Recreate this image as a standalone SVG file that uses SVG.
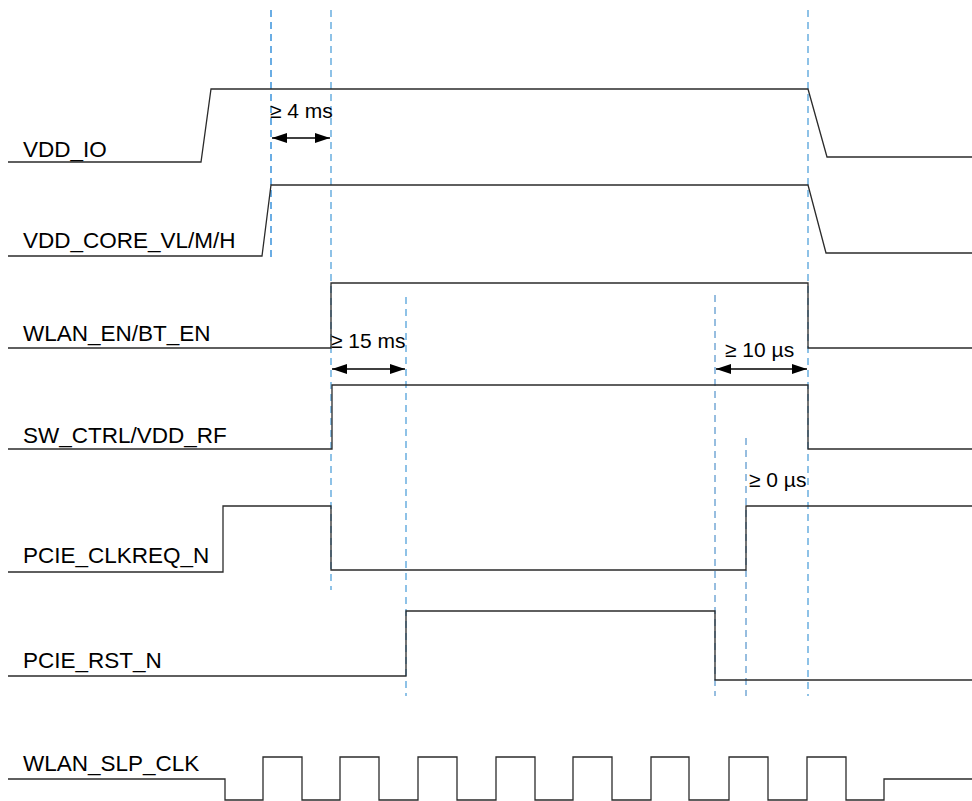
<svg xmlns="http://www.w3.org/2000/svg" width="972" height="801" viewBox="0 0 972 801">
<defs>
<style>
.sig{fill:none;stroke:#2b2b2b;stroke-width:1.3;}
.dl{fill:none;stroke:#6aaee0;stroke-width:1.5;stroke-dasharray:7,5;}
.dd{fill:none;stroke:#2f7cc0;stroke-width:1;stroke-dasharray:7,5;}
.lbl{font-family:"Liberation Sans",Arial,sans-serif;font-size:22.5px;fill:#000;}
.ann{font-family:"Liberation Sans",Arial,sans-serif;font-size:21px;fill:#000;}
.arr{fill:none;stroke:#000;stroke-width:1.5;marker-start:url(#ah);marker-end:url(#ah);}
</style>
<marker id="ah" viewBox="0 0 15 10" refX="15" refY="5" markerWidth="15" markerHeight="10" markerUnits="userSpaceOnUse" orient="auto-start-reverse">
<path d="M0,0 L15,5 L0,10 Z" fill="#000"/>
</marker>
</defs>
<rect width="972" height="801" fill="#fff"/>
<g id="guides">
<line class="dl" x1="271" y1="10" x2="271" y2="262" style="stroke:#3a92dc"/>
<line class="dl" x1="331" y1="10" x2="331" y2="590"/>
<line class="dl" x1="406" y1="297" x2="406" y2="696"/>
<line class="dd" x1="715" y1="295" x2="715" y2="696"/>
<line class="dd" x1="746" y1="438" x2="746" y2="696"/>
<line class="dl" x1="808" y1="10" x2="808" y2="696"/>
</g>
<g id="sig-vdd-io">
<path class="sig" d="M8,162 L201,162 L211,89 L808,89 L827,157 L972,157"/>
<text class="lbl" x="23" y="157">VDD_IO</text>
</g>
<g id="sig-vdd-core">
<path class="sig" d="M8,256 L262,256 L271,185 L808,185 L826,253 L972,253"/>
<text class="lbl" x="23" y="248">VDD_CORE_VL/M/H</text>
</g>
<g id="sig-wlan-en">
<path class="sig" d="M8,348 L331,348 L331,283 L808,283 L808,348 L972,348"/>
<text class="lbl" x="23" y="341">WLAN_EN/BT_EN</text>
</g>
<g id="sig-sw-ctrl">
<path class="sig" d="M8,449 L332,449 L332,385 L808,385 L808,449 L972,449"/>
<text class="lbl" x="23" y="443">SW_CTRL/VDD_RF</text>
</g>
<g id="sig-clkreq">
<path class="sig" d="M8,572 L223,572 L223,506 L331,506 L331,570 L746,570 L746,506 L972,506"/>
<text class="lbl" x="23" y="563">PCIE_CLKREQ_N</text>
</g>
<g id="sig-rst">
<path class="sig" d="M8,676 L406,676 L406,611 L715,611 L715,680 L972,680"/>
<text class="lbl" x="23" y="668">PCIE_RST_N</text>
</g>
<g id="sig-slp-clk">
<path class="sig" d="M8,779 L225,779 L225,800 L263,800 L263,757 L302,757 L302,800 L340,800 L340,757 L379,757 L379,800 L418,800 L418,757 L457,757 L457,800 L496,800 L496,757 L535,757 L535,800 L573,800 L573,757 L612,757 L612,800 L651,800 L651,757 L689,757 L689,800 L729,800 L729,757 L768,757 L768,800 L807,800 L807,757 L846,757 L846,800 L884,800 L884,779 L972,779"/>
<text class="lbl" x="23" y="771">WLAN_SLP_CLK</text>
</g>
<g id="connectors">
<line class="arr" x1="272" y1="138" x2="330" y2="138"/>
<line class="arr" x1="332" y1="369" x2="405" y2="369"/>
<line class="arr" x1="716" y1="369" x2="807" y2="369"/>
</g>
<g id="annotations">
<text class="ann" x="270" y="118">≥ 4 ms</text>
<text class="ann" x="331" y="348">≥ 15 ms</text>
<text class="ann" x="725" y="357">≥ 10 µs</text>
<text class="ann" x="749" y="487">≥ 0 µs</text>
</g>
</svg>
